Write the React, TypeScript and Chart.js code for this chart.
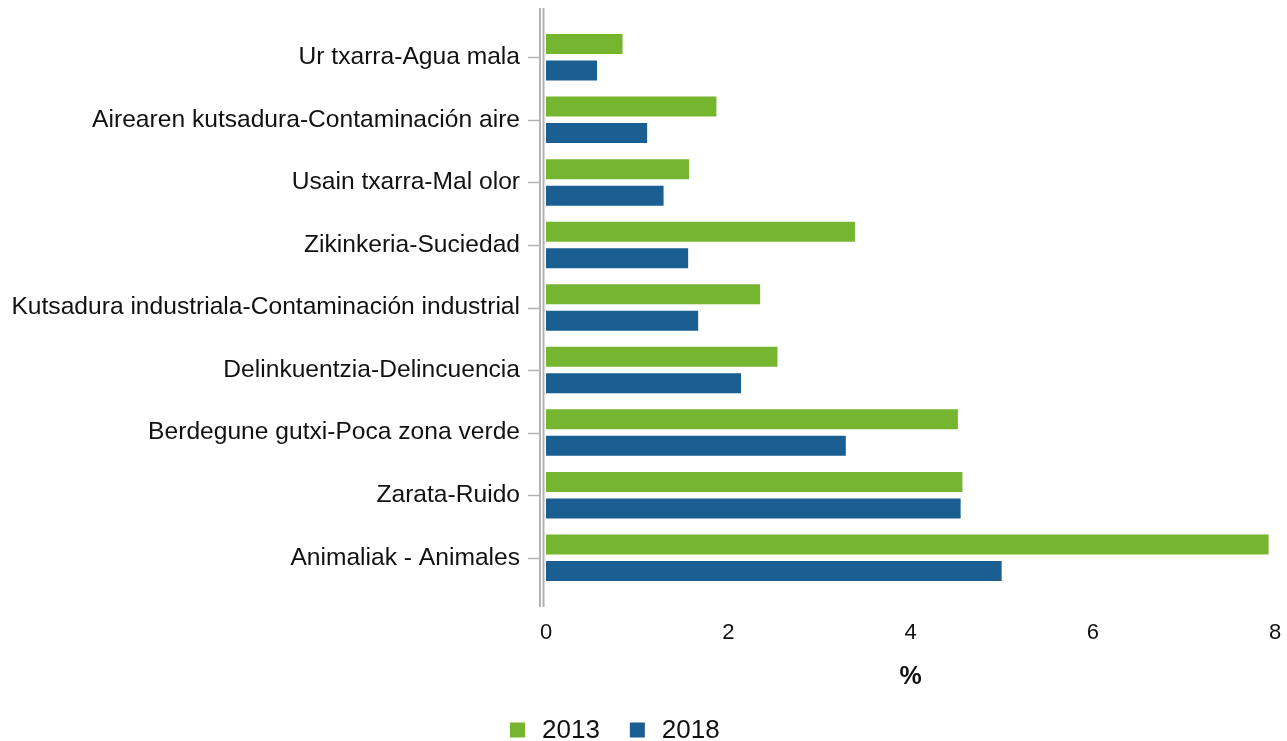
import React, { useEffect, useRef } from "react";
import { Chart, registerables } from "chart.js";

Chart.register(...registerables);

const categories = [
  "Ur txarra-Agua mala",
  "Airearen kutsadura-Contaminación aire",
  "Usain txarra-Mal olor",
  "Zikinkeria-Suciedad",
  "Kutsadura industriala-Contaminación industrial",
  "Delinkuentzia-Delincuencia",
  "Berdegune gutxi-Poca zona verde",
  "Zarata-Ruido",
  "Animaliak - Animales",
];
const values2013 = [0.84, 1.87, 1.57, 3.39, 2.35, 2.54, 4.52, 4.57, 7.93];
const values2018 = [0.56, 1.11, 1.29, 1.56, 1.67, 2.14, 3.29, 4.55, 5.0];
const seriesLabels = ["2013", "2018"];
const xTicks = [0, 2, 4, 6, 8];

const GREEN = "#76b52f";
const BLUE = "#1a5e92";
const FONT = "'Liberation Sans', Arial, sans-serif";

const axisPlugin = {
  id: "axisDecor",
  afterDraw(chart: any) {
    const { ctx, chartArea } = chart;
    const y = chart.scales.y;
    ctx.save();
    ctx.strokeStyle = "#b3b3b3";
    ctx.lineWidth = 2;
    const top = chartArea.top - 18;
    const bottom = chartArea.bottom + 18;
    [chartArea.left - 6, chartArea.left - 2.5].forEach((x) => {
      ctx.beginPath();
      ctx.moveTo(x, top);
      ctx.lineTo(x, bottom);
      ctx.stroke();
    });
    ctx.lineWidth = 1.5;
    for (let i = 0; i < categories.length; i++) {
      const py = Math.round(y.getPixelForValue(i)) + 0.5;
      ctx.beginPath();
      ctx.moveTo(chartArea.left - 18, py);
      ctx.lineTo(chartArea.left - 7, py);
      ctx.stroke();
    }
    // legend
    ctx.font = `26px ${FONT}`;
    ctx.textBaseline = "middle";
    ctx.textAlign = "left";
    const ly = 730;
    const colors = [GREEN, BLUE];
    let x = 510;
    seriesLabels.forEach((lab, i) => {
      ctx.fillStyle = colors[i];
      ctx.fillRect(x, ly - 7.5, 15, 15);
      ctx.fillStyle = "#111";
      ctx.fillText(lab, x + 32, ly + 1);
      x += 32 + ctx.measureText(lab).width + 30;
    });
    ctx.restore();
  },
};

export default function App() {
  const ref = useRef<HTMLCanvasElement>(null);
  useEffect(() => {
    document.body.style.margin = "0";
    const chart = new Chart(ref.current!, {
      type: "bar",
      data: {
        labels: categories,
        datasets: [
          { label: seriesLabels[0], data: values2013, backgroundColor: GREEN },
          { label: seriesLabels[1], data: values2018, backgroundColor: BLUE },
        ],
      },
      plugins: [axisPlugin],
      options: {
        indexAxis: "y",
        animation: false,
        responsive: true,
        maintainAspectRatio: false,
        layout: { padding: { left: 0, right: 12, top: 26, bottom: 0 } },
        datasets: { bar: { categoryPercentage: 0.847, barPercentage: 0.755 } },
        plugins: { legend: { display: false }, tooltip: { enabled: false } },
        scales: {
          y: {
            grid: { display: false, drawTicks: false },
            border: { display: false },
            ticks: { color: "#111", font: { family: FONT, size: 24.6 }, padding: 26 },
            afterFit(scale: any) {
              scale.width = 546;
              scale.paddingTop = 0;
              scale.paddingBottom = 0;
              scale.paddingLeft = 0;
              scale.paddingRight = 0;
            },
          },
          x: {
            min: 0,
            max: 8,
            afterBuildTicks(scale: any) {
              scale.ticks = xTicks.map((v) => ({ value: v }));
            },
            grid: { display: false, drawTicks: false },
            border: { display: false },
            ticks: { color: "#111", font: { family: FONT, size: 22 }, padding: 31 },
            title: {
              display: true,
              text: "%",
              color: "#111",
              font: { family: FONT, size: 25, weight: "bold" },
              padding: { top: 0, bottom: 49 },
            },
            afterFit(scale: any) {
              scale.height = 152;
              scale.paddingTop = 0;
              scale.paddingBottom = 0;
              scale.paddingLeft = 0;
              scale.paddingRight = 0;
            },
          },
        },
      },
    });
    return () => chart.destroy();
  }, []);
  return (
    <div style={{ width: "1287px", height: "741px", position: "relative" }}>
      <canvas ref={ref} />
    </div>
  );
}
